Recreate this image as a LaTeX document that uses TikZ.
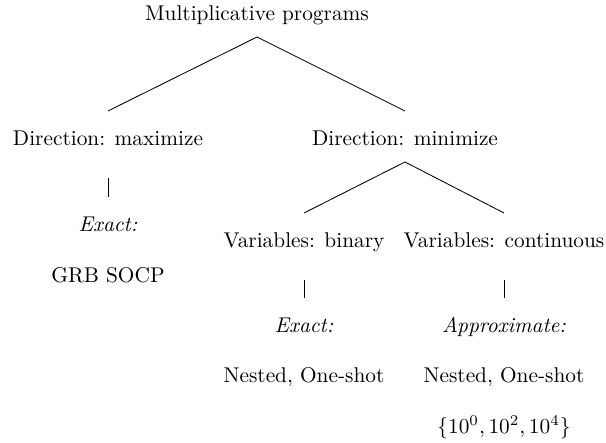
\documentclass[tikz,border=0pt]{standalone}
\usepackage{amsmath}
\begin{document}
\begin{tikzpicture}[x=0.4686pt,y=-0.4686pt,
		every node/.style={text height=7pt,text depth=2pt,inner sep=0pt},
		down/.style={yshift=-10.3pt},
		up/.style={yshift=13.6pt},
		bartop/.style={yshift=-17.8pt}]
	\def \xl {108}
	\def \xm {304}
	\def \xr {504}
	\useasboundingbox (0,0) rectangle (606,442);

	% levels
	\node (root) at (257,15) {Multiplicative programs};
	\node (max) at (\xl,140) {Direction: maximize};
	\node (min) at (405,140) {Direction: minimize};
	\node (bin) at (\xm,242) {Variables: binary};
	\node (cont) at (\xr,242) {Variables: continuous};

	% leaves
	\node (maxexact) at (\xl,226) {\textit{Exact:}};
	\node (grb) at (\xl,277) {GRB SOCP};
	\node (binexact) at (\xm,327) {\textit{Exact:}};
	\node (binmeth) at (\xm,377) {Nested, One-shot};
	\node (approx) at (\xr,327) {\textit{Approximate:}};
	\node (contmeth) at (\xr,377) {Nested, One-shot};
	\node (eps) at (\xr,428) {$\{10^0,10^2,10^4\}$};

	% edges
	\draw ([down]root.center) -- ([up]max.center);
	\draw ([down]root.center) -- ([up]min.center);
	\draw ([down]min.center) -- ([up]bin.center);
	\draw ([down]min.center) -- ([up]cont.center);
	\foreach \p/\c in {max/maxexact,bin/binexact,cont/approx} {
		\draw ([bartop]\p.center) -- ([up]\c.center);
	}
\end{tikzpicture}
\end{document}
